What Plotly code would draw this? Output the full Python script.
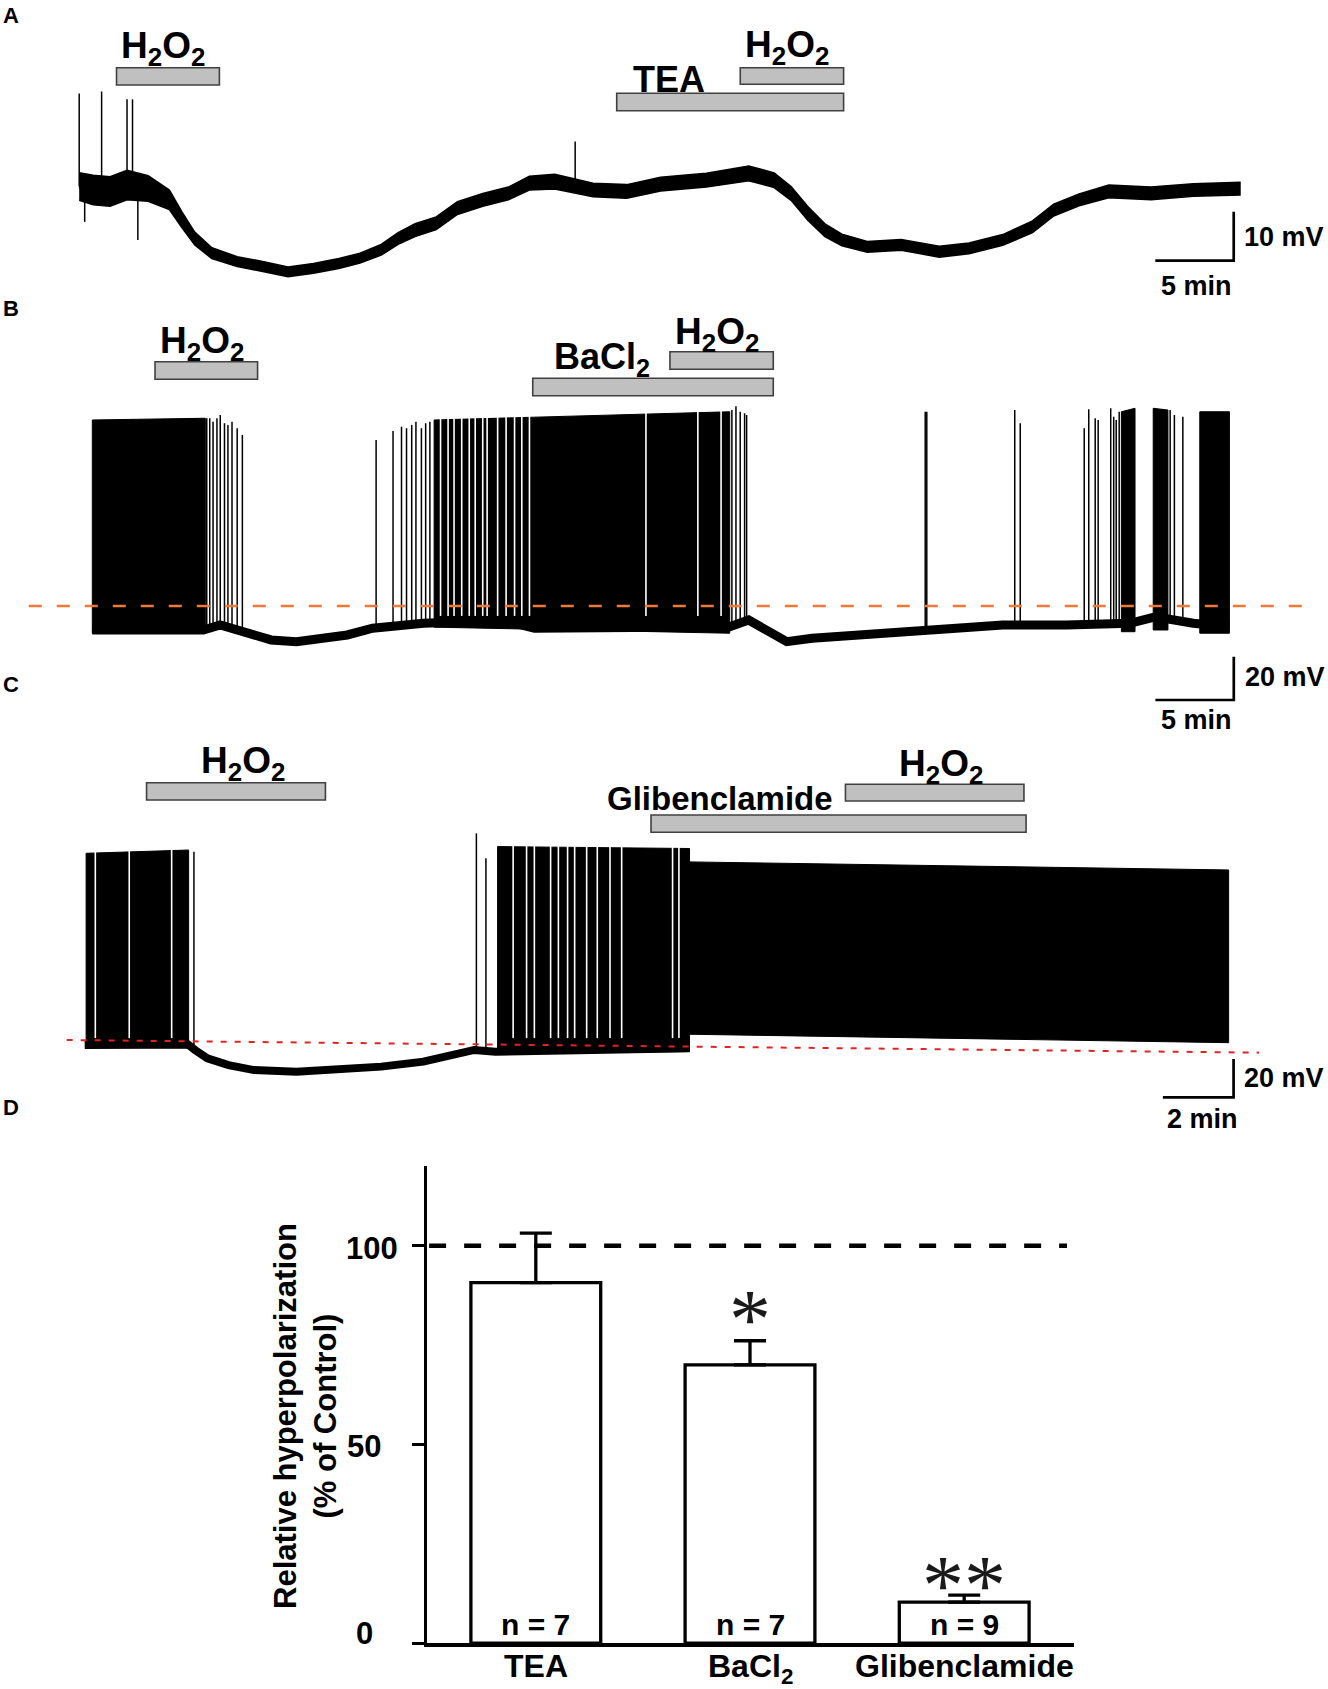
import numpy as np
import plotly.graph_objects as go

W, H = 1328, 1689
FONT = "Liberation Sans, Arial, sans-serif"

# ---------------- panel A : membrane potential (min, mV) ----------------
a_base_t = [0, 0.89, 1.97, 3.05, 4.40, 5.75, 6.56, 7.37, 8.46, 10.08, 11.70, 13.32,
            14.94, 16.56, 17.91, 19.26, 20.34, 21.42, 22.77, 24.12, 25.74, 27.37,
            28.71, 30.33, 32.77, 34.92, 37.08, 40.0, 42.70, 44.32, 45.40, 46.48,
            47.56, 48.64, 50.26, 52.42, 54.85, 56.75, 58.90, 60.80, 62.15, 63.77,
            65.66, 68.36, 71.06, 74.03]
a_base_v = [-39.3, -40.0, -40.3, -39.0, -39.7, -42.0, -46.1, -49.9, -52.9, -54.6,
            -55.6, -56.7, -56.0, -55.0, -53.9, -52.2, -49.9, -48.2, -46.8, -43.7,
            -42.0, -40.7, -38.6, -38.3, -40.0, -40.3, -38.8, -38.0, -36.6, -38.0,
            -40.7, -44.8, -48.2, -50.2, -51.6, -51.2, -52.6, -51.9, -50.2, -47.5,
            -44.1, -42.0, -40.3, -40.7, -40.0, -39.7]
# half-width of the noise band (mV)
a_noise = [2.8, 3.0, 3.0, 3.0, 2.6, 2.0, 1.6, 1.3, 1.1, 1.0, 1.0, 1.0,
           1.0, 1.0, 1.0, 1.1, 1.2, 1.3, 1.3, 1.3, 1.3, 1.3,
           1.4, 1.5, 1.4, 1.4, 1.4, 1.4, 1.5, 1.5, 1.4, 1.4,
           1.3, 1.2, 1.1, 1.1, 1.1, 1.1, 1.1, 1.2, 1.2, 1.2,
           1.3, 1.3, 1.3, 1.3]
a_spike_t = [0.0, 0.35, 1.43, 3.05, 3.40, 3.74, 31.63]
a_spike_v = [-20.3, -46.5, -19.9, -21.5, -21.5, -50.2, -30.1]
a_drugs = [("H2O2", 2.38, 8.94), ("TEA", 34.28, 48.75), ("H2O2", 42.16, 48.75)]

# ---------------- panel B ----------------
b_base_t = [0, 7.08, 8.16, 9.78, 11.40, 13.02, 14.64, 16.26, 17.88, 19.50, 21.12,
            23.83, 26.53, 28.20, 40.65, 41.86, 42.95, 44.29, 45.91, 48.62, 51.32,
            54.02, 58.07, 62.12, 66.17, 67.79, 70.22, 72.52]
b_base_v = [-62.3, -62.3, -60.0, -63.1, -66.9, -67.7, -66.1, -64.6, -61.5, -60.0,
            -59.2, -58.5, -58.5, -61.5, -60.8, -57.7, -62.3, -67.7, -66.1, -64.6,
            -63.1, -61.5, -60.0, -60.0, -59.2, -56.2, -59.2, -60.8]
b_burst_t0 = [0.0, 21.80, 65.63, 67.66, 70.63]
b_burst_t1 = [7.21, 40.65, 66.50, 68.60, 72.52]
b_burst_top0 = [34.7, 34.7, 38.5, 40.1, 38.5]
b_burst_top1 = [35.5, 38.5, 40.1, 39.3, 38.5]
b_burst_bot0 = [-63.8, -61.0, -63.1, -62.3, -63.8]
b_burst_bot1 = [-63.8, -63.8, -63.1, -62.3, -63.8]
b_gaps = [22.21, 22.69, 23.07, 23.56, 24.04, 24.42, 24.90, 25.18, 25.85, 26.39,
          26.93, 27.39, 27.88, 35.31, 38.62, 40.10]
b_spike_t = [7.30, 7.49, 7.70, 7.95, 8.16, 8.43, 8.65, 8.91, 9.24, 9.57,
             18.10, 19.18, 19.72, 20.04, 20.37, 20.64, 20.99, 21.26, 21.53,
             40.79, 41.05, 41.32, 41.60, 41.73,
             53.12, 53.22, 58.83, 59.18,
             63.26, 63.55, 63.96, 64.15, 64.95, 65.14, 65.30, 65.49,
             68.74, 69.01, 69.55]
b_spike_v = [35.5, 35.5, 33.9, 35.5, 37.0, 33.2, 32.4, 33.9, 30.9, 27.8,
             25.5, 29.6, 31.6, 30.9, 32.4, 33.9, 30.9, 33.2, 33.9,
             39.3, 41.0, 38.5, 37.8, 37.0,
             38.5, 38.5, 39.3, 33.2,
             30.9, 39.6, 35.5, 34.7, 40.1, 36.2, 34.7, 38.5,
             39.3, 37.0, 36.2]
b_drugs = [("H2O2", 4.00, 10.54), ("BaCl2", 28.09, 43.43), ("H2O2", 36.84, 43.43)]
b_ref_level = -51.2

# ---------------- panel C ----------------
c_base_t = [0.0, 2.88, 3.12, 3.47, 4.07, 4.79, 5.99, 7.19, 8.39, 9.58, 10.54,
            11.02, 11.62, 17.11]
c_base_v = [-62.6, -61.7, -65.2, -69.6, -73.1, -75.7, -76.6, -75.7, -73.9, -71.3,
            -67.8, -65.2, -66.1, -64.3]
c_burst_t0 = [0.04, 11.68, 17.11]
c_burst_t1 = [2.94, 17.11, 32.36]
c_burst_top0 = [37.5, 41.0, 33.0]
c_burst_top1 = [39.2, 40.0, 28.8]
c_burst_bot0 = [-64.3, -67.0, -57.0]
c_burst_bot1 = [-64.3, -66.0, -61.4]
c_gaps = [0.30, 1.26, 2.46, 12.12, 12.50, 12.72, 13.18, 13.40, 13.66, 13.86,
          14.20, 14.50, 14.86, 15.19, 16.63, 16.81]
c_spike_t = [3.09, 11.08, 11.35]
c_spike_v = [38.3, 47.9, 34.9]
c_drugs = [("H2O2", 1.75, 6.81), ("Glibenclamide", 16.02, 26.63), ("H2O2", 21.52, 26.57)]
c_ref_t = [-0.51, 33.22]
c_ref_v = [-60.0, -66.6]

# ---------------- panel D : summary ----------------
groups = ["TEA", "BaCl<sub>2</sub>", "Glibenclamide"]
rel_hyper = [90.7, 70.0, 10.3]
rel_sem = [12.5, 6.1, 1.75]
n_cells = [7, 7, 9]
signif = ["", "*", "**"]
y_ticks = [0, 50, 100]


def py(Y):
    return 1 - Y / H


def px(X):
    return X / W


def trace_axes(x0_px, px_per_min, y_ref_px, v_ref, px_per_mv, ytop, ybot):
    xr = [(0 - x0_px) / px_per_min, (W - x0_px) / px_per_min]
    yr = [v_ref - (ybot - y_ref_px) / px_per_mv, v_ref + (y_ref_px - ytop) / px_per_mv]
    return xr, yr, [py(ybot), py(ytop)]


fig = go.Figure()
shapes, annotations = [], []


def add_recording(ax, base_t, base_v, spike_t, spike_v, bursts=None, gaps=None,
                  base_width=6, noise=None):
    xa, ya = "x" + ax, "y" + ax
    if bursts:
        for t0, t1, a0, a1, b0, b1 in zip(*bursts):
            fig.add_trace(go.Scatter(x=[t0, t1, t1, t0, t0], y=[a0, a1, b1, b0, a0],
                                     fill="toself", fillcolor="black", mode="lines",
                                     line=dict(color="black", width=1),
                                     xaxis=xa, yaxis=ya, hoverinfo="skip"))
        gx, gy = [], []
        for g in gaps:
            gx += [g, g, None]
            gy += [max(bursts[2] + bursts[3]) + 3, min(bursts[4] + bursts[5]) + 8, None]
        fig.add_trace(go.Scatter(x=gx, y=gy, mode="lines",
                                 line=dict(color="white", width=1.6),
                                 xaxis=xa, yaxis=ya, hoverinfo="skip"))
    if noise:
        up = [v + n for v, n in zip(base_v, noise)]
        lo = [v - n for v, n in zip(base_v, noise)]
        fig.add_trace(go.Scatter(x=list(base_t) + list(base_t[::-1]), y=up + lo[::-1],
                                 fill="toself", fillcolor="black", mode="lines",
                                 line=dict(color="black", width=1.5),
                                 xaxis=xa, yaxis=ya, hoverinfo="skip"))
    fig.add_trace(go.Scatter(x=base_t, y=base_v, mode="lines",
                             line=dict(color="black", width=base_width),
                             xaxis=xa, yaxis=ya, hoverinfo="skip"))
    sx, sy = [], []
    for t, v in zip(spike_t, spike_v):
        foot = float(np.interp(t, base_t, base_v))
        sx += [t, t, None]
        sy += [foot, v, None]
    fig.add_trace(go.Scatter(x=sx, y=sy, mode="lines", line=dict(color="black", width=1.5),
                             xaxis=xa, yaxis=ya, hoverinfo="skip"))


add_recording("", a_base_t, a_base_v, a_spike_t, a_spike_v, base_width=4, noise=a_noise)
add_recording("2", b_base_t, b_base_v, b_spike_t, b_spike_v,
              (b_burst_t0, b_burst_t1, b_burst_top0, b_burst_top1, b_burst_bot0, b_burst_bot1),
              b_gaps, base_width=9)
add_recording("3", c_base_t, c_base_v, c_spike_t, c_spike_v,
              (c_burst_t0, c_burst_t1, c_burst_top0, c_burst_top1, c_burst_bot0, c_burst_bot1),
              c_gaps, base_width=8)

# reference lines
fig.add_trace(go.Scatter(x=[-4.05, 77.38], y=[b_ref_level, b_ref_level], mode="lines",
                         line=dict(color="#f07a35", width=2.5, dash="13px,15px"),
                         xaxis="x2", yaxis="y2", hoverinfo="skip"))
fig.add_trace(go.Scatter(x=c_ref_t, y=c_ref_v, mode="lines",
                         line=dict(color="#e02424", width=2, dash="6px,8px"),
                         xaxis="x3", yaxis="y3", hoverinfo="skip"))


# scale bars (5 min / 10 mV etc.)
def scale_bar(ax, t_end, v_bot, dt, dv):
    fig.add_trace(go.Scatter(x=[t_end - dt, t_end, t_end], y=[v_bot, v_bot, v_bot + dv],
                             mode="lines", line=dict(color="black", width=2.7),
                             xaxis="x" + ax, yaxis="y" + ax, hoverinfo="skip"))


scale_bar("", 73.63, -54.43, 5, 10)
scale_bar("2", 72.8, -94.64, 5, 20)
scale_bar("3", 32.5, -89.92, 2, 20)


def txt(s, X, Y, size, xanchor="center", **kw):
    d = dict(text=s, x=px(X), y=py(Y), xref="paper", yref="paper", showarrow=False,
             font=dict(family=FONT, size=size, color="black"), xanchor=xanchor,
             yanchor="middle")
    d.update(kw)
    return d


drug_text = {"H2O2": "<b>H<sub>2</sub>O<sub>2</sub></b>", "TEA": "<b>TEA</b>",
             "BaCl2": "<b>BaCl<sub>2</sub></b>", "Glibenclamide": "<b>Glibenclamide</b>"}

# drug bars: pixel rows of the bars and label positions
bar_rows = {
    "": [(67.7, 85.0), (93.3, 110.7), (67.7, 84.3)],
    "2": [(361.7, 379.3), (378.3, 395.7), (351.7, 369.3)],
    "3": [(782.7, 800.0), (815.0, 832.3), (784.3, 801.0)],
}
label_pos = {
    "": [(163, 45, 37), (668.5, 76, 36), (787, 44, 37)],
    "2": [(202, 340, 37), (602, 356, 36), (717, 331, 37)],
    "3": [(243, 760, 37), (719.5, 796, 33), (941, 763, 37)],
}
for ax, drugs in (("", a_drugs), ("2", b_drugs), ("3", c_drugs)):
    for (name, t0, t1), (ytop, ybot), (lx, ly, fs) in zip(drugs, bar_rows[ax], label_pos[ax]):
        shapes.append(dict(type="rect", xref="x" + ax, yref="paper", x0=t0, x1=t1,
                           y0=py(ybot), y1=py(ytop), fillcolor="#c0c0c0",
                           line=dict(color="#404040", width=1.6), layer="above"))
        annotations.append(txt(drug_text[name], lx, ly + 3, fs))

# scale bar labels
for s, X, Y in (("10 mV", 1242, 237), ("20 mV", 1243, 677), ("20 mV", 1242, 1078)):
    annotations.append(txt("<b>" + s + "</b>", X, Y, 27, xanchor="left"))
for s, X, Y in (("5 min", 1196, 286), ("5 min", 1196, 720), ("2 min", 1202, 1119)):
    annotations.append(txt("<b>" + s + "</b>", X, Y, 27))

# panel letters
for s, Y in (("A", 15), ("B", 308), ("C", 684), ("D", 1107)):
    annotations.append(txt("<b>" + s + "</b>", 11, Y, 22))

# ---------------- panel D ----------------
pos = list(range(len(groups)))
fig.add_trace(go.Bar(x=pos, y=rel_hyper, width=0.606,
                     marker=dict(color="white", line=dict(color="black", width=3.3)),
                     error_y=dict(type="data", array=rel_sem, arrayminus=[0] * len(pos),
                                  symmetric=False, thickness=3.3, width=16, color="black"),
                     xaxis="x4", yaxis="y4", hoverinfo="skip"))
shapes.append(dict(type="line", xref="x4", yref="y4", x0=-0.498, x1=2.48, y0=100, y1=100,
                   line=dict(color="black", width=4.7, dash="17px,18px")))
for p, g, n in zip(pos, groups, n_cells):
    annotations.append(dict(text="<b>n = %d</b>" % n, x=p, y=4.8, xref="x4", yref="y4",
                            showarrow=False, yanchor="middle",
                            font=dict(family=FONT, size=30, color="black")))
    annotations.append(dict(text="<b>" + g + "</b>", x=p, y=py(1646), xref="x4",
                            yref="paper", showarrow=False, yanchor="top",
                            font=dict(family=FONT, size=32, color="black")))
for p, s, yv in zip(pos, signif, [0, 86.9, 20.0]):
    if s:
        annotations.append(dict(text=s, x=p, y=yv, xref="x4", yref="y4", showarrow=False,
                                yanchor="middle", yshift=-22,
                                font=dict(family="Liberation Serif, Times New Roman, serif",
                                          size=84, color="#1a1a1a")))
# y tick labels (centred, slightly offset as in the original)
for v, X, Y in zip(y_ticks, [364.7, 364, 372], [1633, 1446, 1248.5]):
    annotations.append(txt("<b>%d</b>" % v, X, Y, 31))
annotations.append(txt("<b>Relative hyperpolarization<br>(% of Control)</b>", 305, 1416, 31,
                       textangle=-90))

xa, ya, dom_a = trace_axes(79.2, 15.68, 190, -40, 4.9, 0, 300)
xb, yb, dom_b = trace_axes(92.3, 15.68, 625, -60, 2.165, 300, 740)
xc, yc, dom_c = trace_axes(84.7, 35.35, 1040, -60, 1.915, 740, 1140)
hidden = dict(visible=False, showgrid=False, zeroline=False, fixedrange=True)

fig.update_layout(
    width=W, height=H, margin=dict(l=0, r=0, t=0, b=0),
    paper_bgcolor="white", plot_bgcolor="rgba(0,0,0,0)", showlegend=False,
    xaxis=dict(domain=[0, 1], range=xa, anchor="y", **hidden),
    yaxis=dict(domain=dom_a, range=ya, anchor="x", **hidden),
    xaxis2=dict(domain=[0, 1], range=xb, anchor="y2", **hidden),
    yaxis2=dict(domain=dom_b, range=yb, anchor="x2", **hidden),
    xaxis3=dict(domain=[0, 1], range=xc, anchor="y3", **hidden),
    yaxis3=dict(domain=dom_c, range=yc, anchor="x3", **hidden),
    xaxis4=dict(domain=[px(426.5), px(1073.7)], range=[-0.5103, 2.5112], anchor="y4",
                showline=True, linewidth=3.5, linecolor="black", showgrid=False,
                zeroline=False, showticklabels=False, ticks=""),
    yaxis4=dict(domain=[py(1643.1), py(1166.3)], range=[0, 120], anchor="x4",
                showline=True, linewidth=3, linecolor="black", showgrid=False,
                zeroline=False, ticks="outside", ticklen=12, tickwidth=3,
                tickcolor="black", tickvals=y_ticks, showticklabels=False),
    shapes=shapes, annotations=annotations,
)

fig.write_html("out.html", config={"displayModeBar": False},
               post_script="document.body.style.margin='0';")
